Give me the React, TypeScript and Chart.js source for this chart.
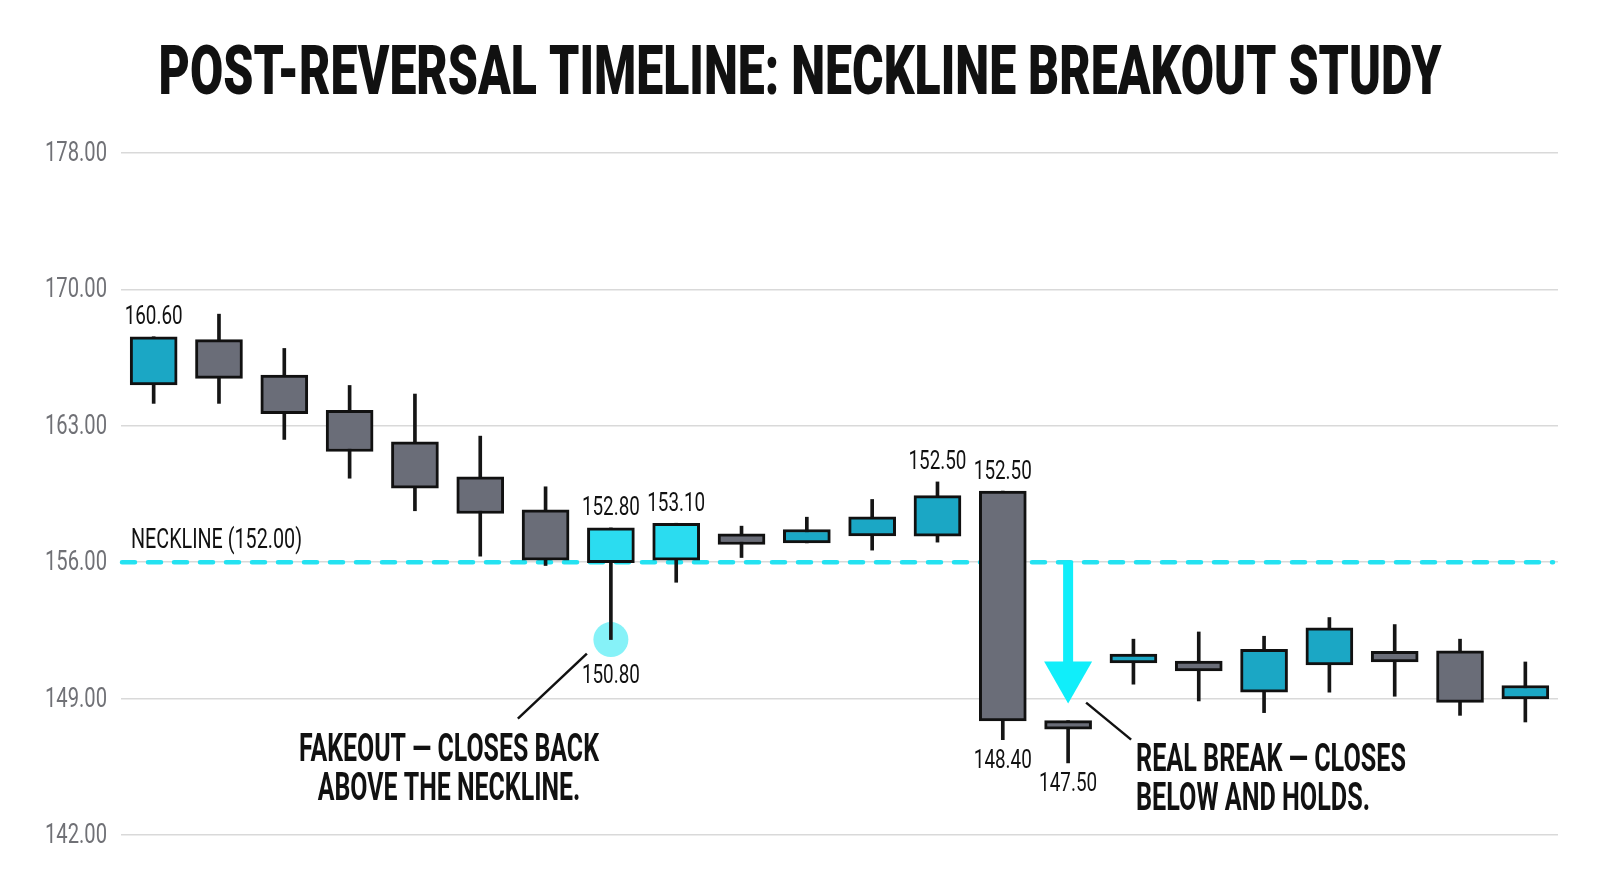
import { useEffect, useRef } from 'react';
import { Chart, registerables } from 'chart.js';

Chart.register(...registerables);

const FONT = 'Roboto, "DejaVu Sans Condensed", sans-serif';

const TITLE = 'POST-REVERSAL TIMELINE: NECKLINE BREAKOUT STUDY';

// sessions after the reversal
const CATEGORIES = [
  'S1', 'S2', 'S3', 'S4', 'S5', 'S6', 'S7', 'S8', 'S9', 'S10', 'S11',
  'S12', 'S13', 'S14', 'S15', 'S16', 'S17', 'S18', 'S19', 'S20', 'S21', 'S22',
];

const OPENS = [
  165.1, 167.42, 165.6, 163.79, 162.18, 160.38, 158.69, 155.97, 156.1, 157.45, 156.99,
  157.35, 157.33, 159.65, 147.87, 150.83, 150.92, 149.33, 150.73, 151.43, 151.45, 148.98,
];
const CLOSES = [
  167.57, 165.43, 163.62, 161.68, 159.8, 158.5, 156.1, 157.76, 158.0, 156.91, 157.68,
  158.33, 159.42, 147.85, 147.43, 151.29, 150.42, 151.53, 152.63, 150.88, 148.81, 149.67,
];
const HIGHS = [
  167.57, 168.73, 166.97, 165.07, 164.63, 162.47, 159.87, 157.76, 158.0, 157.85, 158.31,
  159.22, 160.12, 159.65, 147.87, 152.05, 152.42, 152.2, 153.16, 152.8, 152.05, 150.88,
];
const LOWS = [
  164.15, 164.15, 162.3, 160.31, 158.64, 156.31, 155.83, 152.03, 154.97, 156.24, 156.99,
  156.62, 157.03, 146.89, 145.7, 149.74, 148.88, 148.28, 149.33, 149.12, 148.14, 147.8,
];

const TICK_VALUES = [142, 149, 156, 163, 170, 177];
const TICK_LABELS = ['142.00', '149.00', '156.00', '163.00', '170.00', '178.00'];

const NECKLINE = 156;
const NECKLINE_LABEL = 'NECKLINE (152.00)';
const FAKEOUT_CANDLES = [7, 8];
const FAKEOUT_WICK = 7;
const BREAK_CANDLE = 14;

const LABEL_INDEX = [0, 7, 8, 12, 13, 7, 13, 14];
const LABEL_TEXT = ['160.60', '152.80', '153.10', '152.50', '152.50', '150.80', '148.40', '147.50'];
const LABEL_SIDE = ['above', 'above', 'above', 'above', 'above', 'below', 'below', 'below'];

const FAKEOUT_NOTE = ['FAKEOUT — CLOSES BACK', 'ABOVE THE NECKLINE.'];
const BREAK_NOTE = ['REAL BREAK — CLOSES', 'BELOW AND HOLDS.'];

const TEAL = '#1ba7c5';
const GRAY = '#6a6d78';
const BRIGHT = '#2bdcf0';
const CYAN_LINE = '#24e2f1';
const INK = '#111111';

const candleColors = OPENS.map((o, i) =>
  FAKEOUT_CANDLES.includes(i) ? BRIGHT : CLOSES[i] > o ? TEAL : GRAY
);

function drawLines(
  ctx: CanvasRenderingContext2D,
  lines: string[],
  x: number,
  y: number,
  gap: number,
  font: string,
  align: CanvasTextAlign,
  fitWidth: number,
  color = INK
) {
  ctx.save();
  ctx.font = font;
  const sx = fitWidth / ctx.measureText(lines[0]).width;
  ctx.fillStyle = color;
  ctx.textAlign = align;
  ctx.textBaseline = 'middle';
  lines.forEach((line, i) => {
    ctx.save();
    ctx.translate(x, y + i * gap);
    ctx.scale(sx, 1);
    ctx.fillText(line, 0, 0);
    ctx.restore();
  });
  ctx.restore();
}

const overlay = {
  id: 'overlay',
  beforeDatasetsDraw(chart: any) {
    const { ctx, chartArea, scales } = chart;
    const yN = scales.y.getPixelForValue(NECKLINE);
    ctx.save();
    // neckline
    ctx.strokeStyle = CYAN_LINE;
    ctx.lineWidth = 4.5;
    ctx.lineCap = 'round';
    ctx.setLineDash([13, 13]);
    ctx.beginPath();
    ctx.moveTo(chartArea.left + 1, yN);
    ctx.lineTo(chartArea.right - 5, yN);
    ctx.stroke();
    ctx.setLineDash([]);
    // fakeout wick highlight
    const cx = scales.x.getPixelForValue(FAKEOUT_WICK);
    const cy = scales.y.getPixelForValue(LOWS[FAKEOUT_WICK]);
    ctx.fillStyle = '#86f2f8';
    ctx.beginPath();
    ctx.arc(cx, cy, 17.5, 0, Math.PI * 2);
    ctx.fill();
    ctx.restore();
  },
  afterDatasetsDraw(chart: any) {
    const { ctx, chartArea, scales } = chart;
    const x = scales.x;
    const y = scales.y;
    const yN = y.getPixelForValue(NECKLINE);

    // y tick labels (condensed)
    TICK_VALUES.forEach((v, i) => {
      drawLines(ctx, [TICK_LABELS[i]], chartArea.left - 14, y.getPixelForValue(v) + 1, 0,
        `28px ${FONT}`, 'right', 62, '#707176');
    });

    // break arrow
    const ax = x.getPixelForValue(BREAK_CANDLE);
    const tip = y.getPixelForValue(OPENS[BREAK_CANDLE]) - 17;
    ctx.save();
    ctx.fillStyle = '#10eefa';
    ctx.fillRect(ax - 5, yN - 1, 10, tip - 40 - yN);
    ctx.beginPath();
    ctx.moveTo(ax - 24, tip - 42);
    ctx.lineTo(ax + 24, tip - 42);
    ctx.lineTo(ax, tip);
    ctx.closePath();
    ctx.fill();

    // leader lines
    ctx.strokeStyle = INK;
    ctx.lineWidth = 2.5;
    const fx = x.getPixelForValue(FAKEOUT_WICK);
    const fy = y.getPixelForValue(LOWS[FAKEOUT_WICK]);
    ctx.beginPath();
    ctx.moveTo(fx - 24, fy + 14);
    ctx.lineTo(fx - 93, fy + 79);
    ctx.stroke();
    ctx.beginPath();
    ctx.moveTo(ax + 18, tip - 1);
    ctx.lineTo(ax + 63, tip + 36);
    ctx.stroke();
    ctx.restore();

    // value labels
    LABEL_TEXT.forEach((text, i) => {
      const idx = LABEL_INDEX[i];
      const px = x.getPixelForValue(idx);
      let py: number;
      if (LABEL_SIDE[i] === 'above') py = y.getPixelForValue(HIGHS[idx]) - 19;
      else py = y.getPixelForValue(LOWS[idx]) + (idx === FAKEOUT_WICK ? 37 : 22);
      drawLines(ctx, [text], px, py, 0, `26px ${FONT}`, 'center', 58);
    });
    drawLines(ctx, [NECKLINE_LABEL], chartArea.left + 10, yN - 21, 0, `28px ${FONT}`, 'left', 171);

    // notes
    drawLines(ctx, FAKEOUT_NOTE, 449, 751, 39, `bold 38px ${FONT}`, 'center', 300);
    drawLines(ctx, BREAK_NOTE, 1136, 761, 39, `bold 38px ${FONT}`, 'left', 270);

    // title
    drawLines(ctx, [TITLE], 800, 77, 0, `900 68px ${FONT}`, 'center', 1283);
  },
};

export default function App() {
  const canvasRef = useRef<HTMLCanvasElement>(null);

  useEffect(() => {
    document.body.style.margin = '0';
    if (!canvasRef.current) return;

    const chart = new Chart(canvasRef.current, {
      type: 'bar',
      data: {
        labels: CATEGORIES,
        datasets: [
          {
            label: 'wick',
            data: LOWS.map((l, i) => [l, HIGHS[i]]),
            backgroundColor: '#151515',
            borderWidth: 0,
            barThickness: 3,
            grouped: false,
            order: 2,
          },
          {
            label: 'body',
            data: OPENS.map((o, i) => [o, CLOSES[i]]),
            backgroundColor: candleColors,
            borderColor: INK,
            borderWidth: 3,
            borderSkipped: false,
            barThickness: 47,
            grouped: false,
            order: 1,
          },
        ],
      },
      options: {
        responsive: true,
        maintainAspectRatio: false,
        animation: false,
        layout: { padding: { top: 153, bottom: 58, right: 42, left: 0 } },
        plugins: {
          legend: { display: false },
          tooltip: { enabled: false },
        },
        scales: {
          x: { display: false },
          y: {
            min: 142,
            max: 177,
            afterFit: (scale: any) => {
              scale.width = 121;
            },
            afterBuildTicks: (scale: any) => {
              scale.ticks = TICK_VALUES.map((v) => ({ value: v }));
            },
            ticks: { display: false },
            grid: { color: '#d9d9d9', lineWidth: 1.5, drawTicks: false },
            border: { display: false },
          },
        },
      },
      plugins: [overlay],
    });

    return () => chart.destroy();
  }, []);

  return (
    <div style={{ width: 1600, height: 893, position: 'relative', background: '#fff' }}>
      <canvas ref={canvasRef} />
    </div>
  );
}
